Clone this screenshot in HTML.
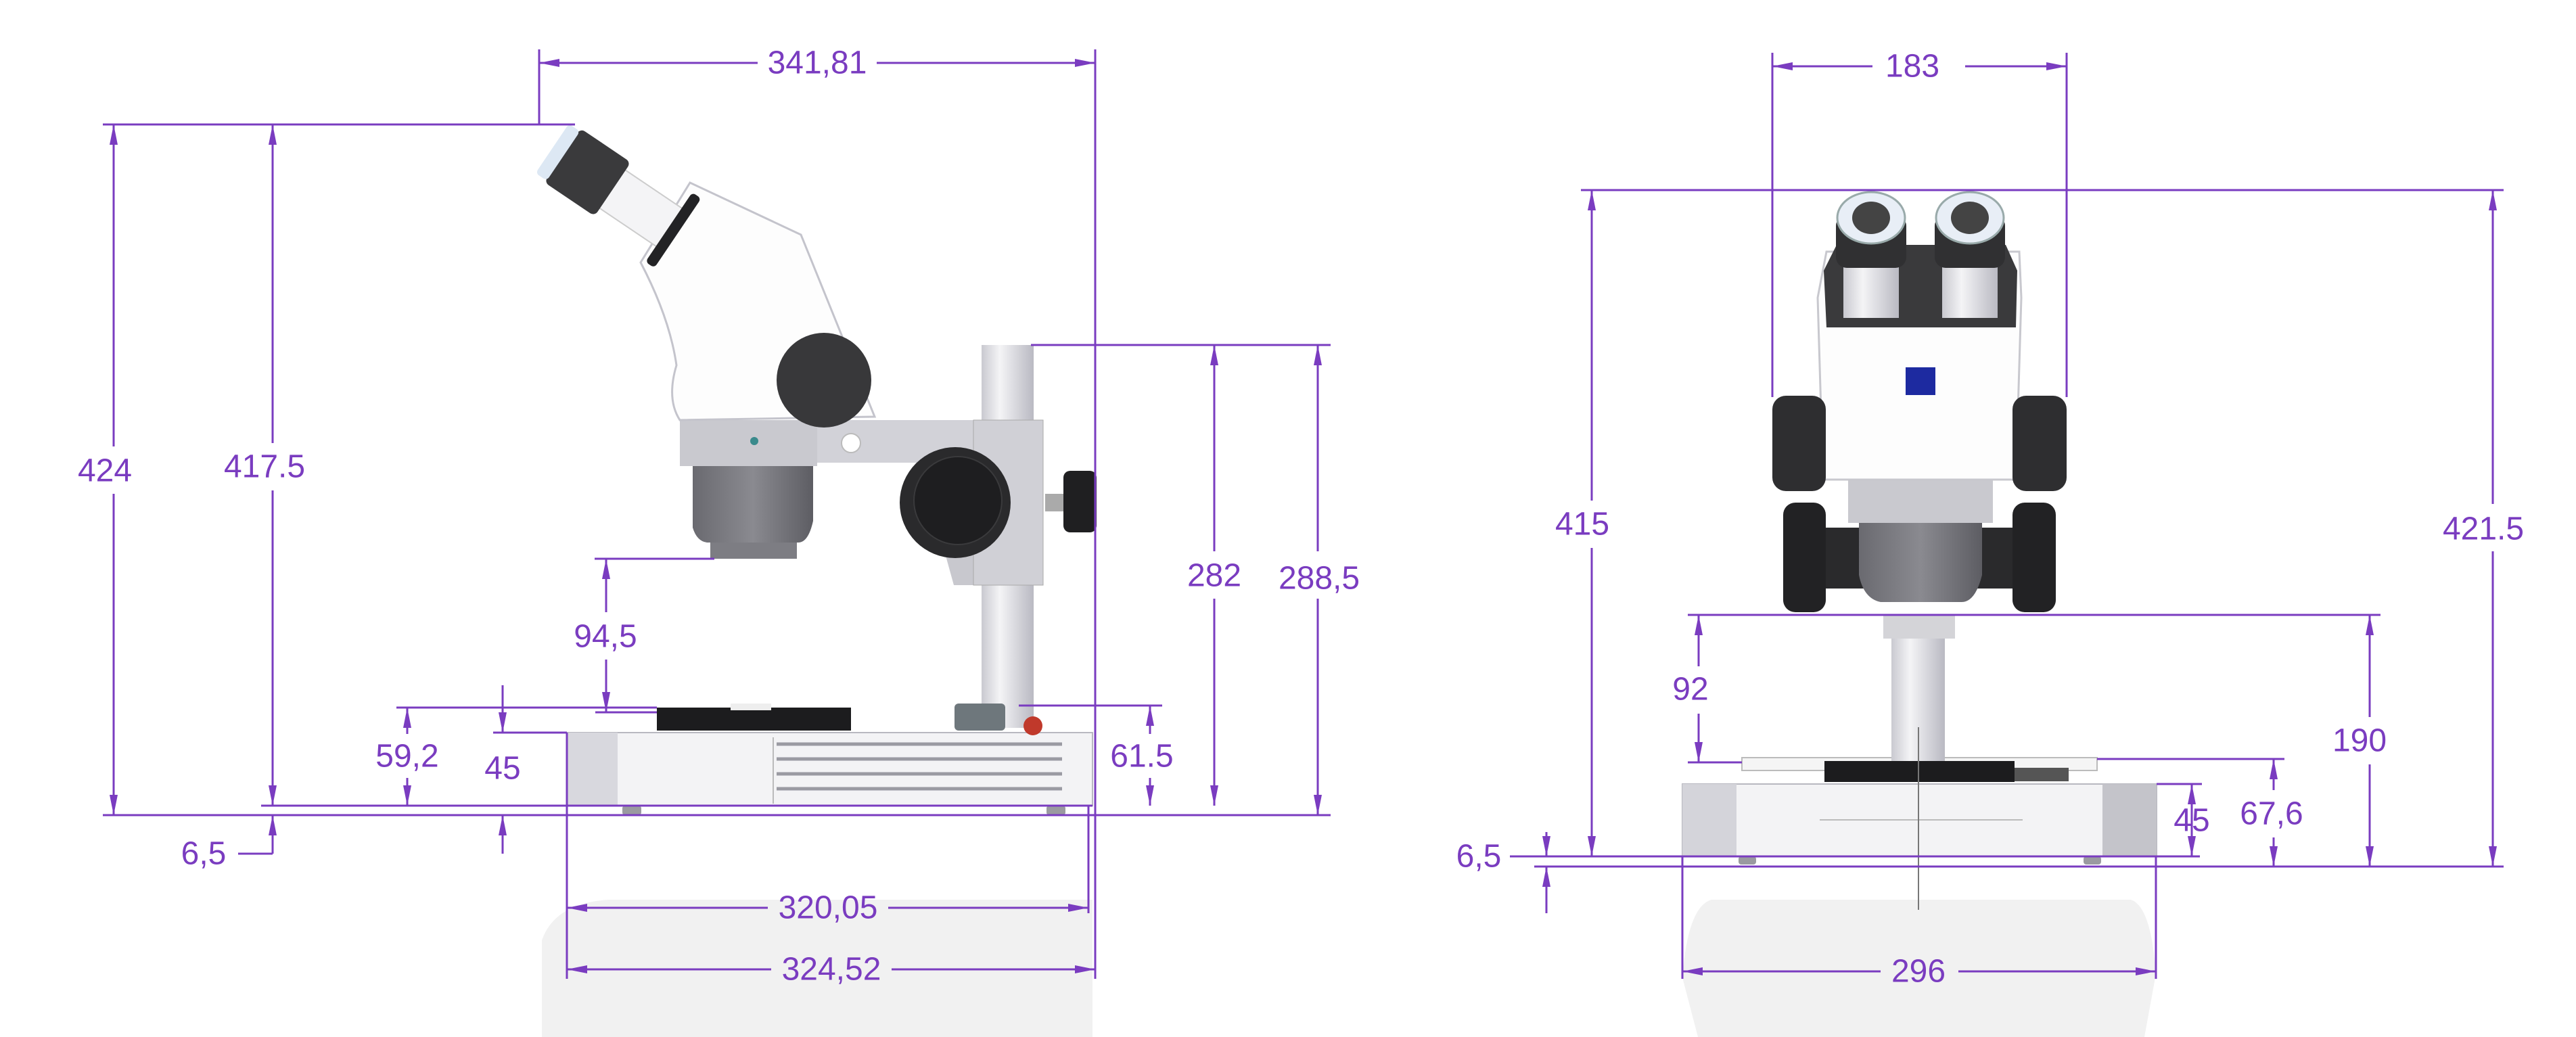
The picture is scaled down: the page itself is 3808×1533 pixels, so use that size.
<!DOCTYPE html>
<html><head><meta charset="utf-8"><style>
html,body{margin:0;padding:0;background:#fff;}
svg{display:block;}
text{font-family:"Liberation Sans",Arial,sans-serif;font-size:48px;fill:#7a3cc0;}
</style></head><body>
<svg width="3808" height="1533" viewBox="0 0 3808 1533" xmlns="http://www.w3.org/2000/svg">
<defs>
<marker id="a" viewBox="0 0 30 12" refX="30" refY="6" markerWidth="30" markerHeight="12" markerUnits="userSpaceOnUse" orient="auto-start-reverse"><path d="M0,0 L30,6 L0,12 Z" fill="#7a3cc0"/></marker>
<linearGradient id="cyl" x1="0" x2="1"><stop offset="0" stop-color="#c9c9d0"/><stop offset="0.35" stop-color="#f4f4f6"/><stop offset="1" stop-color="#b9b9c2"/></linearGradient>
<linearGradient id="obj" x1="0" x2="1"><stop offset="0" stop-color="#6a6a70"/><stop offset="0.5" stop-color="#8a8a90"/><stop offset="1" stop-color="#5d5d63"/></linearGradient>
</defs>

<!-- shadows -->
<path d="M801,1390 Q820,1335 900,1330 L1615,1330 L1615,1533 L801,1533 Z" fill="#f1f1f1"/>
<path d="M2530,1330 L3150,1330 Q3180,1340 3187,1440 L3170,1533 L2510,1533 L2487,1445 Q2495,1340 2530,1330 Z" fill="#f1f1f1"/>

<!-- ============ LEFT MICROSCOPE ============ -->
<!-- base -->
<rect x="838" y="1083" width="777" height="108" fill="#f3f3f5" stroke="#b8b8c0" stroke-width="2"/>
<rect x="838" y="1083" width="75" height="108" fill="#d8d8de"/>
<line x1="1143" y1="1090" x2="1143" y2="1188" stroke="#bbb" stroke-width="2"/>
<g stroke="#9a9aa2" stroke-width="5"><line x1="1148" y1="1100" x2="1570" y2="1100"/><line x1="1148" y1="1122" x2="1570" y2="1122"/><line x1="1148" y1="1144" x2="1570" y2="1144"/><line x1="1148" y1="1166" x2="1570" y2="1166"/></g>
<rect x="920" y="1191" width="28" height="14" rx="4" fill="#9a9aa0"/><rect x="1547" y="1191" width="28" height="14" rx="4" fill="#9a9aa0"/>
<!-- stage plate -->
<rect x="971" y="1046" width="287" height="34" fill="#1c1c1e"/>
<rect x="1080" y="1040" width="60" height="10" fill="#eee"/>
<!-- pillar -->
<rect x="1451" y="510" width="77" height="566" fill="url(#cyl)"/>
<rect x="1411" y="1040" width="75" height="40" rx="6" fill="#6e777c"/>
<circle cx="1527" cy="1073" r="14" fill="#c0392b"/>
<!-- arm -->
<rect x="1208" y="621" width="260" height="63" fill="#d2d2d8"/>
<path d="M1360,684 L1439,684 L1439,865 L1410,865 Z" fill="#c8c8ce"/>
<rect x="1439" y="621" width="103" height="244" fill="#d0d0d6" stroke="#aaa" stroke-width="1"/>
<circle cx="1258" cy="655" r="14" fill="#fff" stroke="#bbb" stroke-width="2"/>
<!-- focus knob -->
<circle cx="1412" cy="743" r="82" fill="#2a2a2c"/>
<circle cx="1416" cy="740" r="65" fill="#1e1e20" stroke="#3a3a3c" stroke-width="2"/>
<!-- side small knob -->
<rect x="1545" y="730" width="30" height="26" fill="#aaa"/>
<rect x="1572" y="696" width="49" height="91" rx="10" fill="#1f1f21"/>
<!-- objective -->
<rect x="1005" y="621" width="203" height="68" fill="#c9c9cf"/>
<circle cx="1115" cy="652" r="6" fill="#3a8a8c"/>
<path d="M1024,689 L1202,689 L1202,770 Q1195,802 1180,802 L1045,802 Q1030,800 1024,780 Z" fill="url(#obj)"/>
<rect x="1050" y="802" width="128" height="24" fill="#7d7d83"/>
<!-- head -->
<path d="M947,388 L1020,270 L1184,347 L1293,616 L1005,621 Q985,590 1000,540 Q990,470 947,388 Z" fill="#fdfdfd" stroke="#c4c4cc" stroke-width="3"/>
<circle cx="1218" cy="562" r="70" fill="#38383a"/>
<!-- eyepiece -->
<g transform="translate(866,253) rotate(34)">
<rect x="40" y="-34" width="115" height="68" fill="#f4f4f6" stroke="#ccc" stroke-width="2"/>
<rect x="148" y="-62" width="16" height="124" rx="6" fill="#232325"/>
<rect x="-42" y="-48" width="90" height="96" rx="8" fill="#3a3a3c"/>
<rect x="-60" y="-44" width="20" height="88" rx="6" fill="#dde8f4"/>
</g>

<!-- ============ LEFT DIMENSIONS ============ -->
<g stroke="#7a3cc0" stroke-width="3" fill="none">
<!-- 341,81 -->
<line x1="797" y1="73" x2="797" y2="184"/>
<line x1="1619" y1="73" x2="1619" y2="1447"/>
<line x1="797" y1="93" x2="1120" y2="93" marker-start="url(#a)"/>
<line x1="1296" y1="93" x2="1619" y2="93" marker-end="url(#a)"/>
<!-- top line -->
<line x1="152" y1="184" x2="850" y2="184"/>
<!-- 424 -->
<line x1="168" y1="184" x2="168" y2="660" marker-start="url(#a)"/>
<line x1="168" y1="730" x2="168" y2="1205" marker-end="url(#a)"/>
<!-- 417.5 -->
<line x1="403" y1="184" x2="403" y2="655" marker-start="url(#a)"/>
<line x1="403" y1="725" x2="403" y2="1191" marker-end="url(#a)"/>
<!-- baselines -->
<line x1="386" y1="1191" x2="1615" y2="1191"/>
<line x1="152" y1="1205" x2="1967" y2="1205"/>
<!-- 6,5 -->
<line x1="403" y1="1262" x2="403" y2="1205" marker-end="url(#a)"/>
<line x1="352" y1="1262" x2="403" y2="1262"/>
<!-- 94,5 -->
<line x1="879" y1="826" x2="1056" y2="826"/>
<line x1="896" y1="826" x2="896" y2="905" marker-start="url(#a)"/>
<line x1="896" y1="975" x2="896" y2="1053" marker-end="url(#a)"/>
<line x1="880" y1="1053" x2="971" y2="1053"/>
<!-- 59,2 -->
<line x1="586" y1="1046" x2="971" y2="1046"/>
<line x1="602" y1="1046" x2="602" y2="1085" marker-start="url(#a)"/>
<line x1="602" y1="1150" x2="602" y2="1191" marker-end="url(#a)"/>
<!-- 45 -->
<line x1="729" y1="1083" x2="838" y2="1083"/>
<line x1="743" y1="1013" x2="743" y2="1083" marker-end="url(#a)"/>
<line x1="743" y1="1262" x2="743" y2="1205" marker-end="url(#a)"/>
<!-- 61.5 -->
<line x1="1506" y1="1043" x2="1718" y2="1043"/>
<line x1="1700" y1="1043" x2="1700" y2="1085" marker-start="url(#a)"/>
<line x1="1700" y1="1150" x2="1700" y2="1191" marker-end="url(#a)"/>
<!-- 282 -->
<line x1="1524" y1="510" x2="1967" y2="510"/>
<line x1="1795" y1="510" x2="1795" y2="815" marker-start="url(#a)"/>
<line x1="1795" y1="885" x2="1795" y2="1191" marker-end="url(#a)"/>
<!-- 288,5 -->
<line x1="1948" y1="510" x2="1948" y2="815" marker-start="url(#a)"/>
<line x1="1948" y1="885" x2="1948" y2="1205" marker-end="url(#a)"/>
<!-- 320,05 / 324,52 -->
<line x1="838" y1="1083" x2="838" y2="1447"/>
<line x1="1609" y1="1191" x2="1609" y2="1350"/>
<line x1="838" y1="1342" x2="1135" y2="1342" marker-start="url(#a)"/>
<line x1="1313" y1="1342" x2="1609" y2="1342" marker-end="url(#a)"/>
<line x1="838" y1="1433" x2="1140" y2="1433" marker-start="url(#a)"/>
<line x1="1318" y1="1433" x2="1619" y2="1433" marker-end="url(#a)"/>
</g>
<g text-anchor="middle" dominant-baseline="central">
<text x="1208" y="93">341,81</text>
<text x="155" y="696">424</text>
<text x="391" y="690">417.5</text>
<text x="301" y="1262">6,5</text>
<text x="895" y="941">94,5</text>
<text x="602" y="1118">59,2</text>
<text x="743" y="1136">45</text>
<text x="1688" y="1118">61.5</text>
<text x="1795" y="851">282</text>
<text x="1950" y="855">288,5</text>
<text x="1224" y="1342">320,05</text>
<text x="1229" y="1433">324,52</text>
</g>

<!-- ============ RIGHT MICROSCOPE ============ -->
<rect x="2487" y="1159" width="701" height="107" fill="#f3f3f5" stroke="#b8b8c0" stroke-width="2"/>
<rect x="2487" y="1159" width="80" height="107" fill="#d4d4da"/>
<rect x="3108" y="1159" width="80" height="107" fill="#c4c4ca"/>
<line x1="2690" y1="1212" x2="2990" y2="1212" stroke="#bbb" stroke-width="2"/>
<rect x="2570" y="1266" width="26" height="12" rx="4" fill="#9a9aa0"/><rect x="3080" y="1266" width="26" height="12" rx="4" fill="#9a9aa0"/>
<rect x="2575" y="1120" width="525" height="19" fill="#f5f5f5" stroke="#bbb" stroke-width="2"/>
<rect x="2697" y="1125" width="281" height="31" fill="#1c1c1e"/>
<rect x="2978" y="1135" width="80" height="20" fill="#555"/>
<rect x="2796" y="944" width="79" height="181" fill="url(#cyl)"/>
<rect x="2784" y="909" width="106" height="35" fill="#d4d4d8"/>
<line x1="2836" y1="1075" x2="2836" y2="1345" stroke="#777" stroke-width="2"/>
<!-- lower knobs -->
<rect x="2699" y="780" width="290" height="90" fill="#2a2a2c"/>
<rect x="2636" y="743" width="63" height="162" rx="18" fill="#222224"/>
<rect x="2975" y="743" width="64" height="162" rx="18" fill="#222224"/>
<!-- objective -->
<rect x="2732" y="709" width="214" height="64" fill="#c9c9cf"/>
<path d="M2748,773 L2930,773 L2930,850 Q2920,890 2900,890 L2780,890 Q2755,885 2748,850 Z" fill="url(#obj)"/>
<!-- head -->
<path d="M2687,440 L2700,372 L2985,372 L2988,440 L2980,709 L2695,709 Z" fill="#fdfdfd" stroke="#c8c8ce" stroke-width="3"/>
<path d="M2696,400 L2715,362 L2965,362 L2982,400 L2980,484 L2700,484 Z" fill="#3a3a3c"/>
<rect x="2817" y="543" width="44" height="41" fill="#1d2aa0"/>
<!-- upper knobs -->
<rect x="2620" y="585" width="79" height="141" rx="20" fill="#2e2e30"/>
<rect x="2975" y="585" width="80" height="141" rx="20" fill="#2e2e30"/>
<!-- eyepieces -->
<rect x="2725" y="380" width="82" height="90" fill="url(#cyl)"/>
<rect x="2871" y="380" width="82" height="90" fill="url(#cyl)"/>
<rect x="2714" y="318" width="104" height="78" rx="16" fill="#303032"/>
<rect x="2860" y="318" width="104" height="78" rx="16" fill="#303032"/>
<ellipse cx="2766" cy="322" rx="50" ry="38" fill="#e8eef6" stroke="#9aa" stroke-width="3"/>
<ellipse cx="2912" cy="322" rx="50" ry="38" fill="#e8eef6" stroke="#9aa" stroke-width="3"/>
<ellipse cx="2766" cy="322" rx="28" ry="24" fill="#444"/>
<ellipse cx="2912" cy="322" rx="28" ry="24" fill="#444"/>

<!-- ============ RIGHT DIMENSIONS ============ -->
<g stroke="#7a3cc0" stroke-width="3" fill="none">
<line x1="2620" y1="78" x2="2620" y2="587"/>
<line x1="3055" y1="78" x2="3055" y2="587"/>
<line x1="2620" y1="98" x2="2768" y2="98" marker-start="url(#a)"/>
<line x1="2905" y1="98" x2="3055" y2="98" marker-end="url(#a)"/>
<line x1="2337" y1="281" x2="3701" y2="281"/>
<line x1="2353" y1="281" x2="2353" y2="740" marker-start="url(#a)"/>
<line x1="2353" y1="810" x2="2353" y2="1266" marker-end="url(#a)"/>
<line x1="3685" y1="281" x2="3685" y2="745" marker-start="url(#a)"/>
<line x1="3685" y1="815" x2="3685" y2="1281" marker-end="url(#a)"/>
<line x1="2268" y1="1281" x2="3701" y2="1281"/>
<line x1="2232" y1="1266" x2="3252" y2="1266"/>
<line x1="2286" y1="1230" x2="2286" y2="1266" marker-end="url(#a)"/>
<line x1="2286" y1="1350" x2="2286" y2="1281" marker-end="url(#a)"/>
<line x1="2495" y1="909" x2="3519" y2="909"/>
<line x1="2511" y1="909" x2="2511" y2="985" marker-start="url(#a)"/>
<line x1="2511" y1="1055" x2="2511" y2="1127" marker-end="url(#a)"/>
<line x1="2495" y1="1127" x2="2575" y2="1127"/>
<line x1="3100" y1="1122" x2="3377" y2="1122"/>
<line x1="3503" y1="909" x2="3503" y2="1060" marker-start="url(#a)"/>
<line x1="3503" y1="1130" x2="3503" y2="1281" marker-end="url(#a)"/>
<line x1="3361" y1="1122" x2="3361" y2="1168" marker-start="url(#a)"/>
<line x1="3361" y1="1238" x2="3361" y2="1281" marker-end="url(#a)"/>
<line x1="3188" y1="1159" x2="3255" y2="1159"/>
<line x1="3240" y1="1159" x2="3240" y2="1266" marker-start="url(#a)" marker-end="url(#a)"/>
<line x1="2487" y1="1266" x2="2487" y2="1447"/>
<line x1="3187" y1="1266" x2="3187" y2="1447"/>
<line x1="2487" y1="1436" x2="2780" y2="1436" marker-start="url(#a)"/>
<line x1="2895" y1="1436" x2="3187" y2="1436" marker-end="url(#a)"/>
</g>
<g text-anchor="middle" dominant-baseline="central">
<text x="2827" y="98">183</text>
<text x="2339" y="775">415</text>
<text x="3671" y="782">421.5</text>
<text x="2186" y="1266">6,5</text>
<text x="2499" y="1019">92</text>
<text x="3488" y="1095">190</text>
<text x="3358" y="1203">67,6</text>
<text x="3240" y="1213">45</text>
<text x="2836" y="1436">296</text>
</g>
</svg>
</body></html>
